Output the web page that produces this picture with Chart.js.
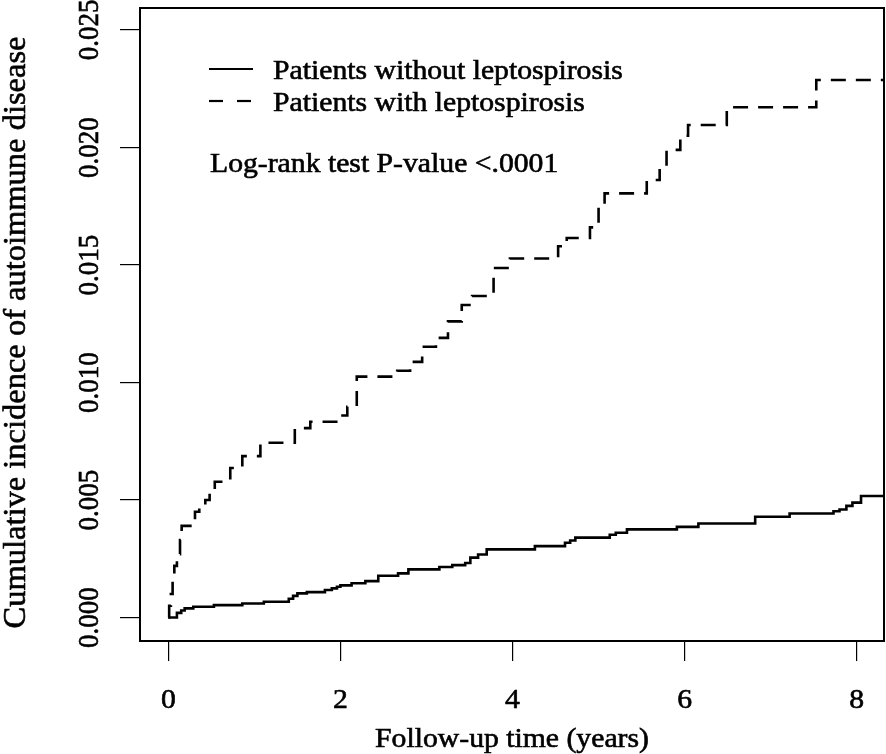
<!DOCTYPE html>
<html>
<head>
<meta charset="utf-8">
<script src="https://cdn.jsdelivr.net/npm/chart.js@4.4.1/dist/chart.umd.min.js"></script>
<style>
  html, body { margin: 0; padding: 0; background: #ffffff; }
  #c { display: block; }
</style>
</head>
<body>
<canvas id="c" width="886" height="754"></canvas>
<script>
// ---- data ----
const xTicks = [0, 2, 4, 6, 8];
const xTickLabels = ['0', '2', '4', '6', '8'];
const yTicks = [0, 0.005, 0.010, 0.015, 0.020, 0.025];
const yTickLabels = ['0.000', '0.005', '0.010', '0.015', '0.020', '0.025'];
const seriesNames = ['Patients without leptospirosis', 'Patients with leptospirosis'];
const xTitle = 'Follow-up time (years)';
const yTitle = 'Cumulative incidence of autoimmune disease';
const annotationText = 'Log-rank test P-value <.0001';

// Patients without leptospirosis (solid): event times and cumulative incidence after the step
const withoutTime = [0, 0.10, 0.15, 0.19, 0.29, 0.53, 0.86, 1.11, 1.40, 1.45, 1.50, 1.61, 1.82, 1.90, 1.96, 2.00,
  2.13, 2.29, 2.44, 2.67, 2.79, 3.15, 3.30, 3.45, 3.51, 3.60, 3.70, 4.26, 4.61, 4.67, 4.73, 5.13, 5.20, 5.33,
  5.91, 6.16, 6.82, 7.22, 7.73, 7.80, 7.88, 7.95, 8.05, 8.40];
const withoutInc = [0, 0.00020, 0.00030, 0.00039, 0.00046, 0.00053, 0.00060, 0.00067, 0.00080, 0.00092, 0.00103,
  0.00108, 0.00117, 0.00124, 0.00131, 0.00137, 0.00146, 0.00155, 0.00178, 0.00188, 0.00205, 0.00215, 0.00223,
  0.00232, 0.00255, 0.00268, 0.00290, 0.00304, 0.00318, 0.00328, 0.00340, 0.00352, 0.00361, 0.00375, 0.00386,
  0.00400, 0.00429, 0.00443, 0.00452, 0.00460, 0.00475, 0.00489, 0.00517, 0.00517];

// Patients with leptospirosis (dashed)
const withTime = [0, 0.01, 0.03, 0.05, 0.07, 0.10, 0.136, 0.155, 0.31, 0.36, 0.43, 0.48, 0.54, 0.72, 0.86, 1.07,
  1.47, 1.65, 1.99, 2.08, 2.19, 2.66, 2.81, 2.95, 3.11, 3.25, 3.41, 3.53, 3.78, 3.97, 4.53, 4.63, 4.90, 5.00,
  5.07, 5.56, 5.71, 5.79, 5.95, 6.04, 6.49, 7.53, 8.40];
const withInc = [0, 0.0005, 0.0010, 0.0016, 0.0022, 0.0027, 0.0033, 0.0039, 0.0045, 0.0047, 0.0050, 0.0053,
  0.00578, 0.00636, 0.00687, 0.00744, 0.00806, 0.00833, 0.00860, 0.00897, 0.01025, 0.01050, 0.01088, 0.01152,
  0.01190, 0.01260, 0.01330, 0.01368, 0.01487, 0.01528, 0.01580, 0.01615, 0.01660, 0.01760, 0.01805, 0.01862,
  0.01920, 0.01990, 0.02050, 0.02096, 0.02171, 0.02287, 0.02287];

// ---- helpers ----
const FONT = '"Liberation Serif", "Times New Roman", serif';
function txt(ctx, s, x, y, size, align, rot, sx) {
  ctx.save();
  ctx.translate(x, y);
  ctx.scale(sx, 1);
  if (rot) ctx.rotate(-Math.PI / 2);
  ctx.font = size + 'px ' + FONT;
  ctx.textAlign = align;
  ctx.textBaseline = 'alphabetic';
  ctx.fillStyle = '#000';
  ctx.strokeStyle = '#000';
  ctx.lineWidth = 0.6;
  ctx.fillText(s, 0, 0);
  ctx.strokeText(s, 0, 0);
  ctx.restore();
}

const decor = {
  id: 'decor',
  afterDraw(chart) {
    const ctx = chart.ctx;
    const a = chart.chartArea;
    const xs = chart.scales.x, ys = chart.scales.y;
    // box
    ctx.save();
    ctx.strokeStyle = '#000';
    ctx.lineWidth = 2;
    ctx.strokeRect(a.left, a.top, a.right - a.left, a.bottom - a.top);
    ctx.restore();
    // tick labels
    yTicks.forEach((v, i) => txt(ctx, yTickLabels[i], 98, ys.getPixelForValue(v), 27, 'center', true, 1.1));
    xTicks.forEach((v, i) => txt(ctx, xTickLabels[i], xs.getPixelForValue(v), 708, 27, 'center', false, 1.1));
    // axis titles
    txt(ctx, xTitle, (a.left + a.right) / 2, 747, 27, 'center', false, 1.1);
    txt(ctx, yTitle, 25, (a.top + a.bottom) / 2 + 8, 32.5, 'center', true, 1.0);
    // legend
    ctx.save();
    ctx.strokeStyle = '#000';
    ctx.lineWidth = 2.2;
    ctx.beginPath(); ctx.moveTo(209, 69); ctx.lineTo(253, 69); ctx.stroke();
    ctx.setLineDash([14, 14]);
    ctx.beginPath(); ctx.moveTo(209, 101); ctx.lineTo(253, 101); ctx.stroke();
    ctx.restore();
    txt(ctx, seriesNames[0], 273, 79, 27, 'left', false, 1.1);
    txt(ctx, seriesNames[1], 273, 110.5, 27, 'left', false, 1.1);
    txt(ctx, annotationText, 210, 171.5, 27, 'left', false, 1.1);
  }
};

new Chart(document.getElementById('c'), {
  type: 'line',
  data: {
    datasets: [
      {
        label: seriesNames[0],
        data: withoutTime.map((t, i) => ({ x: t, y: withoutInc[i] })),
        borderColor: '#000', borderWidth: 2.6, stepped: true, pointRadius: 0, fill: false
      },
      {
        label: seriesNames[1],
        data: withTime.map((t, i) => ({ x: t, y: withInc[i] })),
        borderColor: '#000', borderWidth: 2.6, borderDash: [15, 10], stepped: true, pointRadius: 0, fill: false
      }
    ]
  },
  options: {
    responsive: false,
    animation: false,
    layout: { padding: { top: 8, right: 2, left: 0, bottom: 0 } },
    plugins: { legend: { display: false }, tooltip: { enabled: false } },
    scales: {
      x: {
        type: 'linear', position: 'bottom', min: -0.329, max: 8.317,
        afterBuildTicks: s => { s.ticks = xTicks.map(v => ({ value: v })); },
        ticks: { display: false },
        grid: { drawOnChartArea: false, drawTicks: true, tickLength: 20, color: '#000', lineWidth: 1.2 },
        border: { display: false },
        afterFit: s => { s.height = 113; }
      },
      y: {
        type: 'linear', position: 'left', min: -0.000998, max: 0.025936,
        afterBuildTicks: s => { s.ticks = yTicks.map(v => ({ value: v })); },
        ticks: { display: false },
        grid: { drawOnChartArea: false, drawTicks: true, tickLength: 20, color: '#000', lineWidth: 1.2 },
        border: { display: false },
        afterFit: s => { s.width = 140; }
      }
    }
  },
  plugins: [decor]
});
</script>
</body>
</html>
